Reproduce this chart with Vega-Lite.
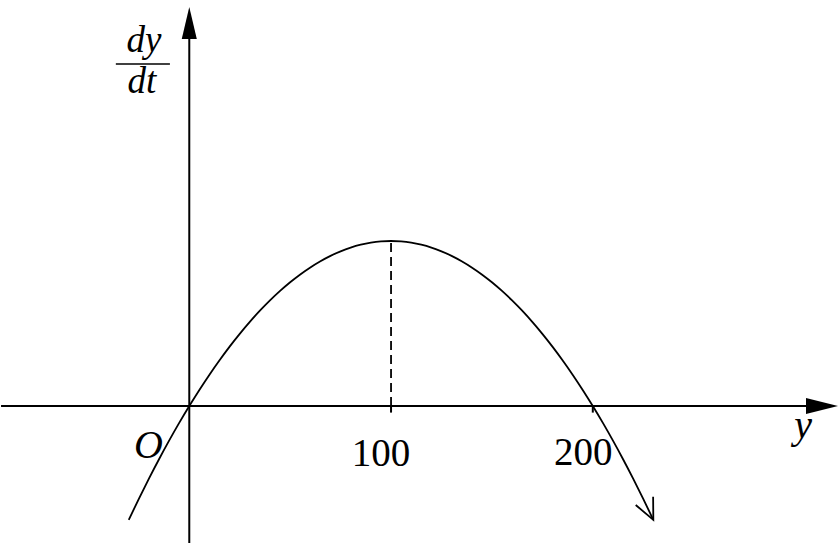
{
  "$schema": "https://vega.github.io/schema/vega-lite/v6.json",
  "width": 839,
  "height": 555,
  "padding": 0,
  "autosize": {"type": "fit", "contains": "padding"},
  "background": "white",
  "config": {"view": {"stroke": null}},
  "datasets": {
    "curve": [
      {"pop": -30, "rate": -69}, {"pop": -25, "rate": -56.25}, {"pop": -20, "rate": -44},
      {"pop": -15, "rate": -32.25}, {"pop": -10, "rate": -21}, {"pop": -5, "rate": -10.25},
      {"pop": 0, "rate": 0}, {"pop": 5, "rate": 9.75}, {"pop": 10, "rate": 19},
      {"pop": 15, "rate": 27.75}, {"pop": 20, "rate": 36}, {"pop": 25, "rate": 43.75},
      {"pop": 30, "rate": 51}, {"pop": 35, "rate": 57.75}, {"pop": 40, "rate": 64},
      {"pop": 45, "rate": 69.75}, {"pop": 50, "rate": 75}, {"pop": 55, "rate": 79.75},
      {"pop": 60, "rate": 84}, {"pop": 65, "rate": 87.75}, {"pop": 70, "rate": 91},
      {"pop": 75, "rate": 93.75}, {"pop": 80, "rate": 96}, {"pop": 85, "rate": 97.75},
      {"pop": 90, "rate": 99}, {"pop": 95, "rate": 99.75}, {"pop": 100, "rate": 100},
      {"pop": 105, "rate": 99.75}, {"pop": 110, "rate": 99}, {"pop": 115, "rate": 97.75},
      {"pop": 120, "rate": 96}, {"pop": 125, "rate": 93.75}, {"pop": 130, "rate": 91},
      {"pop": 135, "rate": 87.75}, {"pop": 140, "rate": 84}, {"pop": 145, "rate": 79.75},
      {"pop": 150, "rate": 75}, {"pop": 155, "rate": 69.75}, {"pop": 160, "rate": 64},
      {"pop": 165, "rate": 57.75}, {"pop": 170, "rate": 51}, {"pop": 175, "rate": 43.75},
      {"pop": 180, "rate": 36}, {"pop": 185, "rate": 27.75}, {"pop": 190, "rate": 19},
      {"pop": 195, "rate": 9.75}, {"pop": 200, "rate": 0}, {"pop": 205, "rate": -10.25},
      {"pop": 210, "rate": -21}, {"pop": 215, "rate": -32.25}, {"pop": 220, "rate": -44},
      {"pop": 225, "rate": -56.25}, {"pop": 230, "rate": -69}
    ],
    "axes": [
      {"pop": -93.3, "pop2": 318, "rate": 0, "rate2": 0},
      {"pop": 0, "pop2": 0, "rate": -83, "rate2": 228}
    ],
    "ticks": [
      {"pop": 100, "rate": 0, "rate2": -4},
      {"pop": 200, "rate": 0, "rate2": -4}
    ],
    "bar": [
      {"pop": -36.4, "pop2": -9.6, "rate": 207.3}
    ],
    "fraction": [
      {"pop": -22.5, "rate": 214.5, "label": "dy"},
      {"pop": -23.5, "rate": 189.7, "label": "dt"}
    ],
    "italic": [
      {"pop": -20.3, "rate": -31.5, "label": "O"},
      {"pop": 304.2, "rate": -19.4, "label": "y"}
    ],
    "numbers": [
      {"pop": 95, "rate": -36.4, "label": "100"},
      {"pop": 195.3, "rate": -35.8, "label": "200"}
    ]
  },
  "encoding": {
    "x": {"field": "pop", "type": "quantitative", "axis": null,
          "scale": {"domain": [-93.32, 322.03], "nice": false, "zero": false}},
    "y": {"field": "rate", "type": "quantitative", "axis": null,
          "scale": {"domain": [-90.3, 246.06], "nice": false, "zero": false}}
  },
  "layer": [
    {
      "data": {"name": "axes"},
      "mark": {"type": "rule", "color": "black", "strokeWidth": 2},
      "encoding": {"x2": {"field": "pop2"}, "y2": {"field": "rate2"}}
    },
    {
      "data": {"name": "ticks"},
      "mark": {"type": "rule", "color": "black", "strokeWidth": 2},
      "encoding": {"y2": {"field": "rate2"}}
    },
    {
      "data": {"values": [{"pop": 100, "rate": 0, "rate2": 100}]},
      "mark": {"type": "rule", "color": "black", "strokeWidth": 1.8, "strokeDash": [9, 5]},
      "encoding": {"y2": {"field": "rate2"}}
    },
    {
      "data": {"name": "bar"},
      "mark": {"type": "rule", "color": "black", "strokeWidth": 1.6},
      "encoding": {"x2": {"field": "pop2"}}
    },
    {
      "data": {"name": "curve"},
      "mark": {"type": "line", "color": "black", "strokeWidth": 1.8, "interpolate": "monotone"},
      "encoding": {}
    },
    {
      "data": {"values": [{"pop": 0, "rate": 232.1}]},
      "mark": {"type": "point", "shape": "M0,-1L0.47,1L-0.47,1Z", "size": 1024,
               "filled": true, "color": "black", "opacity": 1}
    },
    {
      "data": {"values": [{"pop": 313.6, "rate": 0}]},
      "mark": {"type": "point", "shape": "M1,0L-1,0.5L-1,-0.5Z", "size": 1024,
               "filled": true, "color": "black", "opacity": 1}
    },
    {
      "data": {"values": [{"pop": 230, "rate": -69}]},
      "mark": {"type": "point", "shape": "M-1,-0.46L0,0L-1,0.46", "size": 1750,
               "angle": 64.8, "filled": false, "stroke": "black", "strokeWidth": 1.8, "opacity": 1}
    },
    {
      "data": {"name": "fraction"},
      "mark": {"type": "text", "font": "Liberation Serif", "fontStyle": "italic",
               "fontSize": 37, "color": "black", "align": "center", "baseline": "alphabetic"},
      "encoding": {"text": {"field": "label"}}
    },
    {
      "data": {"name": "italic"},
      "mark": {"type": "text", "font": "Liberation Serif", "fontStyle": "italic",
               "fontSize": 40, "color": "black", "align": "center", "baseline": "alphabetic"},
      "encoding": {"text": {"field": "label"}}
    },
    {
      "data": {"name": "numbers"},
      "mark": {"type": "text", "font": "Liberation Serif", "fontSize": 39,
               "color": "black", "align": "center", "baseline": "alphabetic"},
      "encoding": {"text": {"field": "label"}}
    }
  ]
}
